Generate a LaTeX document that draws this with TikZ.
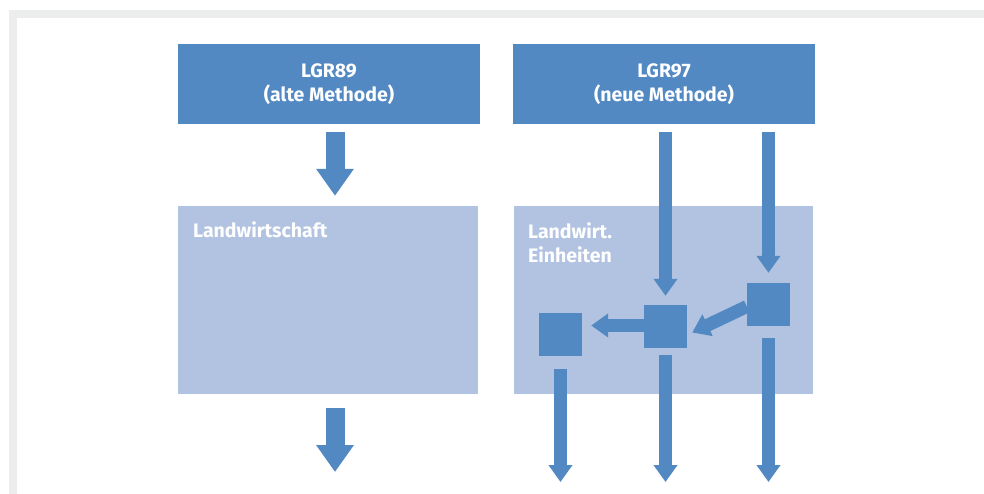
\documentclass[tikz,border=0pt]{standalone}
\usepackage{fontspec}
\setmainfont{Fira Sans}
\usetikzlibrary{arrows.meta, calc, backgrounds}
\definecolor{lgrblau}{RGB}{82,137,195}
\definecolor{lgrhell}{RGB}{177,195,225}
\definecolor{rahmen}{RGB}{236,237,237}
\tikzset{
    kopf/.style={fill=lgrblau,text=white,font=\bfseries\fontsize{19.5}{23.5}\selectfont,
        minimum width=302pt,minimum height=80pt,align=center,inner sep=0pt},
    feld/.style={fill=lgrhell,minimum height=188pt,inner sep=0pt},
    marke/.style={text=white,font=\bfseries\fontsize{19.5}{24}\selectfont,align=left,inner sep=0pt},
    einheit/.style={fill=lgrblau,minimum size=43pt,inner sep=0pt},
    pfeil/.style={draw=lgrblau,line width=13pt,-{Triangle[width=23pt,length=17pt]}},
    dickpfeil/.style={draw=lgrblau,line width=19pt,-{Triangle[width=36pt,length=27pt]}},
}

\begin{document}
\begin{tikzpicture}[x=1pt,y=-1pt]
\useasboundingbox (0,0) rectangle (984,494);
\fill[rahmen] (9,10) rectangle (984,18);
\fill[rahmen] (9,10) rectangle (17,494);

\node[kopf] (alt) at (329,84) {LGR89\\(alte Methode)};
\node[kopf] (neu) at (664,84) {LGR97\\(neue Methode)};
\node[feld,minimum width=300pt] (lw) at (328,300) {};
\node[feld,minimum width=299pt] (lwe) at (663.5,300) {};
\node[marke,anchor=base west] (lwtext) at (193,237) {Landwirtschaft};
\node[marke,anchor=base west] (lwetext) at (528,262) {Landwirt.\\Einheiten};

\node[einheit] (ql) at (560.5,334.5) {};
\node[einheit] (qm) at (665.5,326.5) {};
\node[einheit] (qr) at (768.5,304.5) {};

\coordinate (ausA) at (335,472);
\coordinate (ausB) at (560.5,482);
\coordinate (ausC) at (665.5,482);
\coordinate (ausD) at (768.5,482);

% alte Methode
\draw[dickpfeil] ($(alt.south)+(6,8)$) -- ($(lw.north)+(7,-10)$);
\draw[dickpfeil] ($(lw.south)+(7,14)$) -- (ausA);

% neue Methode
\draw[pfeil] ($(qm |- neu.south)+(0,8)$) -- ($(qm.north)+(0,-9)$);
\draw[pfeil] ($(qr |- neu.south)+(0,8)$) -- ($(qr.north)+(0,-10)$);
\draw[pfeil] ($(qm.west)+(0,-1)$) -- ($(ql.east |- qm.west)+(9,-1)$);
\draw[pfeil] ($(qr.west)+(0,2)$) -- ($(qm.east)+(5,6)$);
\draw[pfeil] ($(ql.south)+(0,13)$) -- (ausB);
\draw[pfeil] ($(qm.south)+(0,7)$) -- (ausC);
\draw[pfeil] ($(qr.south)+(0,12)$) -- (ausD);
\end{tikzpicture}
\end{document}
